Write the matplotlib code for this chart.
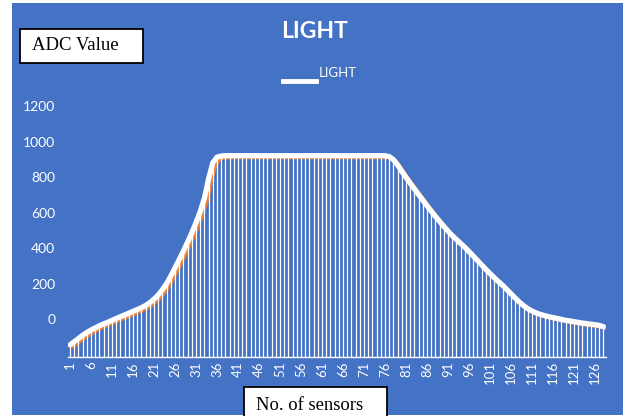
import matplotlib
matplotlib.use("Agg")
import matplotlib.pyplot as plt
import matplotlib.transforms as mtransforms
from matplotlib.patches import Rectangle
from matplotlib.lines import Line2D

sensors = list(range(1, 129))
light = [
    -146, -128, -110, -92, -76, -62, -50, -38, -28, -18,
    -8, 3, 13, 23, 33, 43, 53, 64, 76, 92,
    112, 135, 165, 200, 242, 288, 335, 383, 433, 485,
    543, 605, 680, 790, 880, 912, 918, 920, 920, 920,
    920, 920, 920, 920, 920, 920, 920, 920, 920, 920,
    920, 920, 920, 920, 920, 920, 920, 920, 920, 920,
    920, 920, 920, 920, 920, 920, 920, 920, 920, 920,
    920, 920, 920, 920, 920, 920, 915, 898, 868, 832,
    798, 765, 733, 700, 668, 638, 608, 578, 550, 522,
    495, 470, 448, 426, 404, 380, 355, 330, 305, 280,
    256, 233, 211, 190, 166, 142, 118, 95, 75, 58,
    45, 34, 26, 19, 13, 8, 3, -2, -7, -11,
    -15, -19, -23, -26, -29, -32, -36, -43,
]
xticks = list(range(1, 129, 5))
yticks = [0, 200, 400, 600, 800, 1000, 1200]
title = "LIGHT"
series_name = "LIGHT"
ylabel = "ADC Value"
xlabel = "No. of sensors"

BLUE = "#4472C4"
ORANGE = "#ED7D31"
W, H = 626, 416

fig = plt.figure(figsize=(W / 100, H / 100), dpi=100)
fig.patch.set_facecolor("white")

def fx(px):
    return px / W

def fy(py):
    return 1 - py / H

# blue chart area
fig.patches.append(Rectangle((fx(12), fy(415)), fx(623) - fx(12), fy(3) - fy(415),
                             transform=fig.transFigure, facecolor=BLUE, edgecolor="none", zorder=-1))

ax = fig.add_axes([fx(67.9), fy(357), fx(605.5) - fx(67.9), fy(106) - fy(357)])
ax.set_zorder(1)
ax.set_facecolor("none")
ymin = -214
ax.set_xlim(0.5, 128.5)
ax.set_ylim(ymin, 1200)

# drop lines
ax.vlines(sensors, ymin, light, colors="white", linewidth=0.9, zorder=2)
# orange line (offset) and white line
off = mtransforms.offset_copy(ax.transData, fig=fig, x=3, y=-2, units="dots")
ax.plot(sensors, light, color=ORANGE, linewidth=2.3, transform=off, zorder=1,
        solid_capstyle="round", solid_joinstyle="round")
ax.plot(sensors, light, color="white", linewidth=3.8, zorder=3,
        solid_capstyle="round", solid_joinstyle="round")

for s in ["top", "right", "left"]:
    ax.spines[s].set_visible(False)
ax.spines["bottom"].set_color("white")
ax.spines["bottom"].set_linewidth(1.0)

ax.set_yticks(yticks)
ax.set_yticklabels([str(v) for v in yticks], color="white", fontsize=10, family="Lato")
ax.tick_params(axis="y", length=0, pad=9)
ax.set_xticks(xticks)
ax.set_xticklabels([str(v) for v in xticks], color="white", fontsize=9.5,
                   family="Lato", rotation=90)
ax.tick_params(axis="x", length=0, pad=3)

# title
fig.text(fx(315), fy(32), title, color="white", fontsize=16.5, fontweight="bold",
         family="Lato", ha="center", va="center", zorder=6)
# legend
fig.lines.append(Line2D([fx(283), fx(316)], [fy(81), fy(81)], color="white",
                        linewidth=3.5, transform=fig.transFigure, zorder=6))
fig.text(fx(319), fy(73), series_name, color="white", fontsize=9.5, family="Lato",
         ha="left", va="center", zorder=6)

# ADC Value box
fig.patches.append(Rectangle((fx(20), fy(63)), fx(143) - fx(20), fy(29) - fy(63),
                             transform=fig.transFigure, facecolor="white",
                             edgecolor="black", linewidth=1.3, zorder=5))
fig.text(fx(32), fy(46), ylabel, color="black", fontsize=13.5, family="Liberation Serif",
         ha="left", va="center", zorder=6)

# No. of sensors box
fig.patches.append(Rectangle((fx(244), fy(420)), fx(387) - fx(244), fy(387) - fy(420),
                             transform=fig.transFigure, facecolor="white",
                             edgecolor="black", linewidth=1.3, zorder=5))
fig.text(fx(256), fy(405), xlabel, color="black", fontsize=13.4, family="Liberation Serif",
         ha="left", va="center", zorder=6)

fig.savefig("out.png", dpi=100, facecolor=fig.get_facecolor())
